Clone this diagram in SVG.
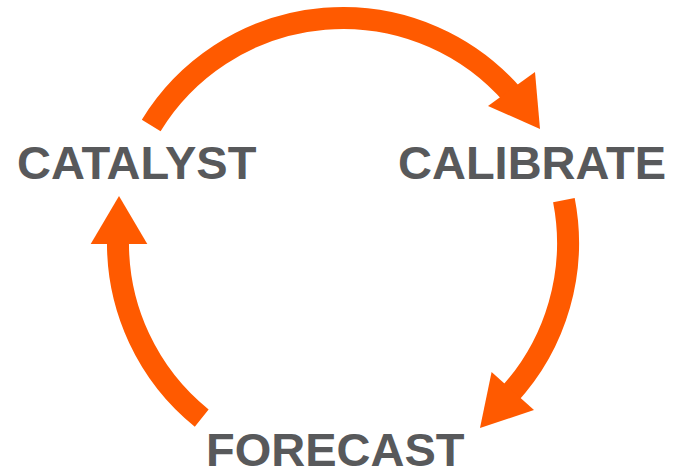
<svg xmlns="http://www.w3.org/2000/svg" width="686" height="471" viewBox="0 0 686 471">
  <style>
    .arc { fill: none; stroke: #ff5a00; stroke-width: 22; stroke-linecap: butt; }
    .head { fill: #ff5a00; stroke: none; }
    .label { font-family: "Liberation Sans", Arial, sans-serif; font-weight: bold; font-size: 47px; fill: #58595b; }
  </style>
  <rect width="686" height="471" fill="#ffffff"/>

  <!-- cycle arrows around a common circle (centre 343,243; r 225) -->
  <g id="connectors">
    <g id="catalyst-to-calibrate">
      <path class="arc" d="M151.2,125.4 A225,225 0 0 1 512.8,95.4"/>
      <polygon class="head" points="535,72 488,106 540,129"/>
    </g>
    <g id="calibrate-to-forecast">
      <path class="arc" d="M563.9,200.1 A225,225 0 0 1 507.6,396.4"/>
      <polygon class="head" points="534,410 491.6,372 480,428"/>
    </g>
    <g id="forecast-to-catalyst">
      <path class="arc" d="M201.7,418.1 A225,225 0 0 1 118,239.1"/>
      <polygon class="head" points="90.7,244 147.3,244 119,196"/>
    </g>
  </g>

  <g id="catalyst">
    <text class="label" x="17" y="179">CATALYST</text>
  </g>
  <g id="calibrate">
    <text class="label" x="398" y="179">CALIBRATE</text>
  </g>
  <g id="forecast">
    <text class="label" x="206" y="466">FORECAST</text>
  </g>
</svg>
